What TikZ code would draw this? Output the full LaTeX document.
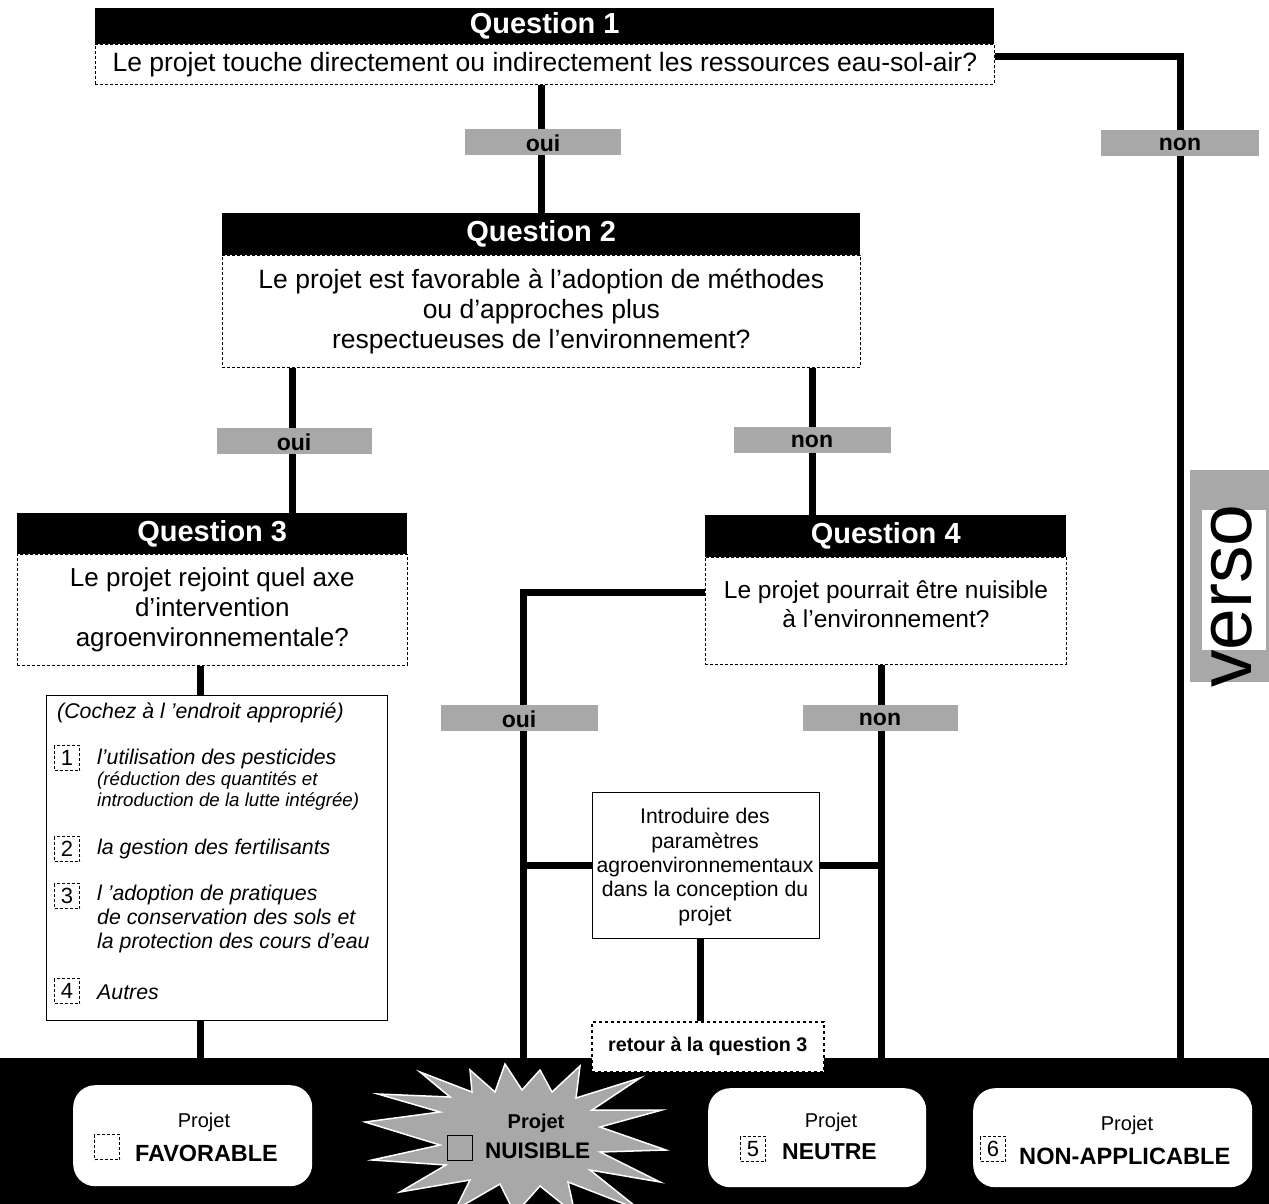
\documentclass[tikz,border=0pt]{standalone}
\usepackage{fontspec}
\setmainfont{Liberation Sans}
\definecolor{lab}{gray}{0.66}
\tikzset{
  x=1pt, y=-1pt,
  qhead/.style={fill=black, text=white, font=\fontsize{29}{32}\selectfont\bfseries, anchor=north west, inner sep=0pt},
  qbody/.style={draw=black, densely dashed, line width=0.7pt, fill=white, anchor=north west, inner sep=0pt, align=center, font=\fontsize{26.5}{30}\selectfont},
  conn/.style={line width=7pt},
  lbl/.style={fill=lab, font=\fontsize{23}{26}\selectfont\bfseries, minimum height=26pt, inner sep=0pt, text height=14pt, text depth=0pt},
  ouilbl/.style={lbl, text height=19pt},
  cbox/.style={draw=black, densely dashed, line width=0.7pt, minimum width=25pt, minimum height=25pt, inner sep=0pt, font=\fontsize{22}{24}\selectfont},
  itxt/.style={anchor=west, inner sep=0pt, font=\fontsize{21.3}{24}\selectfont\itshape, align=left},
  stxt/.style={anchor=west, inner sep=0pt, font=\fontsize{18.7}{21}\selectfont\itshape, align=left},
  endbox/.style={fill=white, rounded corners=22pt, anchor=north west, inner sep=0pt},
  ptxt/.style={font=\fontsize{20}{22}\selectfont, inner sep=0pt},
  etxt/.style={font=\fontsize{23.4}{26}\selectfont\bfseries, inner sep=0pt, anchor=west},
}
\begin{document}
\begin{tikzpicture}
\useasboundingbox (0,0) rectangle (1269,1204);
\fill[white] (0,0) rectangle (1269,1204);

% black band
\node[fill=black, anchor=north west, minimum width=1269pt, minimum height=146pt, inner sep=0pt] (band) at (0,1058) {};

% Question 1
\node[qhead, minimum width=899pt, minimum height=36pt] (q1h) at (95,8) {Question 1};
\node[qbody, minimum width=899pt, minimum height=40pt] (q1b) at (95,44) {Le projet touche directement ou indirectement les ressources eau-sol-air?};

% Question 2
\node[qhead, minimum width=638pt, minimum height=42pt] (q2h) at (222,213) {Question 2};
\node[qbody, minimum width=638pt, minimum height=112pt] (q2b) at (222,255) {Le projet est favorable à l'adoption de méthodes\\ou d'approches plus\\respectueuses de l'environnement?};

% Question 3
\node[qhead, minimum width=390pt, minimum height=41pt] (q3h) at (17,513) {Question 3};
\node[qbody, minimum width=390pt, minimum height=111pt, font=\fontsize{26}{30}\selectfont] (q3b) at (17,554) {Le projet rejoint quel axe\\d'intervention\\agroenvironnementale?};

% Question 4
\node[qhead, minimum width=361pt, minimum height=42pt] (q4h) at (705,515) {Question 4};
\node[qbody, minimum width=361pt, minimum height=107pt] (q4b) at (705,557) {};
\node[align=center, font=\fontsize{24.5}{29}\selectfont, inner sep=0pt] (q4t) at (886,604) {Le projet pourrait être nuisible\\à l'environnement?};

% checklist
\node[draw=black, line width=1pt, fill=white, anchor=north west, minimum width=341pt, minimum height=325pt, inner sep=0pt] (chk) at (46,695) {};
\node[itxt] (ck0) at (57,713) {(Cochez à l 'endroit approprié)};
\node[cbox] (cb1) at (67,758) {1};
\node[itxt] (ck1) at (97,759) {l'utilisation des pesticides};
\node[stxt] (ck1a) at (97,791) {(réduction des quantités et\\introduction de la lutte intégrée)};
\node[cbox] (cb2) at (67,849) {2};
\node[itxt] (ck2) at (97,849) {la gestion des fertilisants};
\node[cbox] (cb3) at (67,896) {3};
\node[itxt] (ck3) at (97,919) {l 'adoption de pratiques\\de conservation des sols et\\la protection des cours d'eau};
\node[cbox] (cb4) at (67,991) {4};
\node[itxt] (ck4) at (97,992) {Autres};

% middle box
\node[draw=black, line width=1pt, fill=white, anchor=north west, minimum width=227pt, minimum height=146pt, inner sep=0pt] (mid) at (592,792) {};
\node[align=center, font=\fontsize{21.2}{24.3}\selectfont, inner sep=0pt] (midt) at (705,867) {Introduire des\\paramètres\\agroenvironnementaux\\dans la conception du\\projet};

% retour box
\node[draw=black, dashed, line width=1.6pt, fill=white, anchor=north west, minimum width=232pt, minimum height=50pt, inner sep=0pt, font=\fontsize{19.7}{22}\selectfont\bfseries] (ret) at (591,1021) {retour à la question 3};

% connectors
\coordinate (r1) at (1180,57);
\coordinate (o4) at (523,592);
\draw[conn] (q1b.south -| q2h.north) -- (q2h.north);
\draw[conn] (q1b.east |- r1) -- (r1) -- (r1 |- band.north);
\draw[conn] (q2b.south -| 292,0) -- (q3h.north -| 292,0);
\draw[conn] (q2b.south -| 812,0) -- (q4h.north -| 812,0);
\draw[conn] (q3b.south -| 200,0) -- (chk.north -| 200,0);
\draw[conn] (chk.south -| 200,0) -- (band.north -| 200,0);
\draw[conn] (q4b.west |- o4) -- (o4) -- (o4 |- band.north);
\draw[conn] (q4b.south -| 881,0) -- (band.north -| 881,0);
\draw[conn] (mid.west) -- (mid.west -| o4);
\draw[conn] (mid.east) -- (mid.east -| 881,0);
\draw[conn] (mid.south -| 700,0) -- (ret.north -| 700,0);

% labels
\node[ouilbl, minimum width=156pt] (l1) at (543,142) {oui};
\node[lbl, minimum width=158pt] (l2) at (1180,143) {non};
\node[ouilbl, minimum width=155pt] (l3) at (294,441) {oui};
\node[lbl, minimum width=157pt] (l4) at (812,440) {non};
\node[ouilbl, minimum width=157pt] (l5) at (519,718) {oui};
\node[lbl, minimum width=155pt] (l6) at (880,718) {non};

% verso
\node[fill=lab, anchor=north west, minimum width=79pt, minimum height=212pt, inner sep=0pt] (vg) at (1190,470) {};
\node[fill=white, anchor=north west, minimum width=64pt, minimum height=140pt, inner sep=0pt] (vw) at (1202,510) {};
\node[rotate=90, font=\fontsize{75}{80}\selectfont, inner sep=0pt] (verso) at (1232,596) {verso};

% end boxes
\node[endbox, minimum width=239pt, minimum height=101pt] (fav) at (73,1085) {};
\node[ptxt] (favp) at (204,1122) {Projet};
\node[cbox, fill=white] (favc) at (107,1147) {};
\node[etxt] (favt) at (135,1153) {FAVORABLE};

\fill[lab, draw=white, line width=1.5pt] (365,1122) -- (440,1112) -- (378,1094) -- (450,1097) -- (420,1072) -- (472,1092) -- (470,1070) -- (495,1092) -- (505,1064) -- (522,1090) -- (540,1070) -- (552,1092) -- (580,1066) -- (576,1098) -- (640,1078) -- (592,1110) -- (662,1110) -- (600,1127) -- (666,1150) -- (600,1152) -- (660,1182) -- (590,1170) -- (640,1210) -- (568,1182) -- (575,1214) -- (540,1186) -- (515,1214) -- (500,1184) -- (455,1210) -- (470,1180) -- (400,1192) -- (446,1165) -- (372,1160) -- (440,1145) -- cycle;
\node[inner sep=0pt, minimum size=2pt] (nuis) at (515,1138) {};
\node[ptxt, font=\fontsize{20}{22}\selectfont\bfseries] (nuisp) at (536,1123) {Projet};
\node[cbox, draw=black, solid, line width=1.2pt] (nuisc) at (460,1148) {};
\node[etxt, font=\fontsize{22.5}{26}\selectfont\bfseries] (nuist) at (485,1151) {NUISIBLE};

\node[endbox, minimum width=218pt, minimum height=99pt] (neu) at (708,1088) {};
\node[ptxt] (neup) at (831,1122) {Projet};
\node[cbox] (neuc) at (753,1149) {5};
\node[etxt, font=\fontsize{23}{26}\selectfont\bfseries] (neut) at (782,1152) {NEUTRE};

\node[endbox, minimum width=279pt, minimum height=99pt] (nap) at (973,1088) {};
\node[ptxt] (napp) at (1127,1125) {Projet};
\node[cbox] (napc) at (993,1149) {6};
\node[etxt, font=\fontsize{23.6}{26}\selectfont\bfseries] (napt) at (1019,1156) {NON-APPLICABLE};
\end{tikzpicture}
\end{document}
